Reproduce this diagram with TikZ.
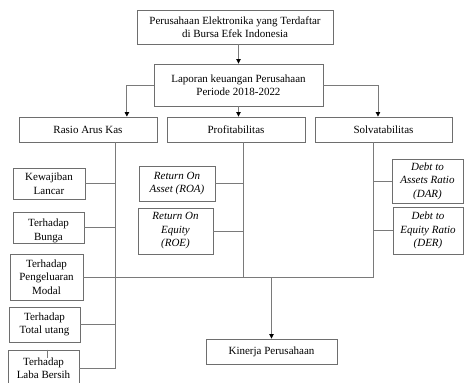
\documentclass[tikz,border=0pt]{standalone}
\usepackage{fontspec}
\setmainfont{Liberation Serif}
\usepackage{xcolor}
\usetikzlibrary{arrows.meta,positioning,calc}
\definecolor{edge}{HTML}{6E6E6E}
\definecolor{wire}{HTML}{7A7A7A}
\tikzset{
  fbox/.style={draw=edge,line width=0.9pt,fill=white,align=center,inner sep=2pt},
  ftext/.style={align=center,inner sep=0pt},
  farr/.style={-{Triangle[length=4.5pt,width=4.5pt,color=black]},line width=0.8pt,draw=wire},
  fline/.style={line width=0.8pt,draw=wire}
}

\begin{document}
\begin{tikzpicture}[x=1pt,y=-1pt,font=\fontsize{11}{13.5}\selectfont]
  \useasboundingbox (0,0) rectangle (464,383);
  % top of the chart
  \node[fbox,minimum width=196,minimum height=34] (top) at (235,27) {Perusahaan Elektronika yang Terdaftar\\di Bursa Efek Indonesia};
  \node[fbox,minimum width=169,minimum height=42] (lap) at (238.5,85) {Laporan keuangan Perusahaan\\Periode 2018-2022};
  % three groups
  \node[fbox,minimum width=138,minimum height=25] (rasio) at (88,129.5) {Rasio Arus Kas};
  \node[fbox,minimum width=138,minimum height=25] (prof) at (236,129.5) {Profitabilitas};
  \node[fbox,minimum width=137,minimum height=25] (solv) at (383.5,129.5) {Solvatabilitas};
  % arus kas items
  \node[fbox,minimum width=72,minimum height=31] (kl) at (49,183.5) {Kewajiban\\Lancar};
  \node[fbox,minimum width=71,minimum height=31,fill=none] (bunga) at (48.5,227.5) {};
  \node[ftext] (bungatxt) at (48.5,231) {Terhadap\\Bunga};
  \node[fbox,minimum width=73,minimum height=46] (peng) at (46.5,277) {Terhadap\\Pengeluaran\\Modal};
  \node[fbox,minimum width=71,minimum height=35] (total) at (44.5,324.5) {Terhadap\\Total utang};
  \node[fbox,minimum width=71,minimum height=36] (laba) at (43.5,368) {Terhadap\\Laba Bersih};
  % profitabilitas items
  \node[fbox,minimum width=76,minimum height=35,font=\fontsize{11}{13.5}\selectfont\itshape] (roa) at (177,183.5) {Return On\\Asset (ROA)};
  \node[fbox,minimum width=75,minimum height=46,font=\fontsize{11}{13.5}\selectfont\itshape] (roe) at (175.5,231) {Return On\\Equity\\(ROE)};
  % solvatabilitas items
  \node[fbox,minimum width=71,minimum height=44,font=\fontsize{11}{13.5}\selectfont\itshape] (dar) at (427.5,181) {Debt to\\Assets Ratio\\(DAR)};
  \node[fbox,minimum width=70,minimum height=47,font=\fontsize{11}{13.5}\selectfont\itshape] (der) at (428,230.5) {Debt to\\Equity Ratio\\(DER)};
  % result
  \node[fbox,minimum width=131,minimum height=25] (kin) at (271.5,351.5) {Kinerja Perusahaan};

  \coordinate (rasioin) at ($(rasio.north west)!0.78!(rasio.north east)$);
  \coordinate (solvin) at ($(solv.north west)!0.46!(solv.north east)$);
  \coordinate (rasiobot) at ($(rasio.south west)!0.696!(rasio.south east)$);
  \coordinate (profbot) at ($(prof.south west)!0.55!(prof.south east)$);
  \coordinate (solvbot) at ($(solv.south west)!0.43!(solv.south east)$);
  \coordinate (merge) at (kin.north |- peng.east);

  % arrows from the top
  \draw[farr] (lap.north |- top.south) -- (lap.north);
  \draw[farr] (lap.west) -| (rasioin);
  \draw[farr] (lap.south) -- (lap.south |- prof.north);
  \draw[farr] (lap.east) -| (solvin);
  % trunks and branches
  \draw[fline] (rasiobot) |- (laba.east);
  \foreach \n in {kl,bunga,total}{
    \draw[fline] (\n.east) -- (\n.east -| rasiobot);
  }
  \draw[fline] (profbot) -- (profbot |- peng.east);
  \foreach \n in {roa,roe}{
    \draw[fline] (\n.east) -- (\n.east -| profbot);
  }
  \draw[fline] (solvbot) |- (peng.east);
  \foreach \n in {dar,der}{
    \draw[fline] (\n.west) -- (\n.west -| solvbot);
  }
  \draw[fline] ($(laba.north west)!0.56!(laba.north east)$) -- ++(0,8);
  \draw[farr] (merge) -- (kin.north);
\end{tikzpicture}
\end{document}
